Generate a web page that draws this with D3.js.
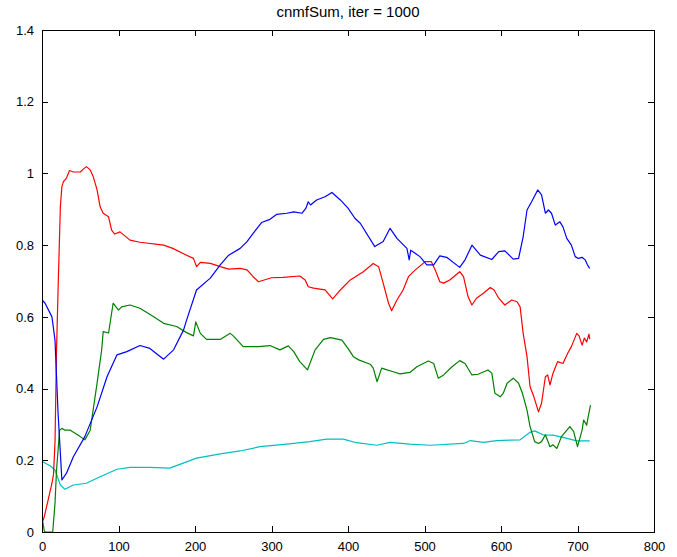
<!DOCTYPE html>
<html>
<head>
<meta charset="utf-8">
<script src="https://cdn.jsdelivr.net/npm/d3@7"></script>
<style>
  body { margin: 0; background: #fff; }
  svg { display: block; }
  .tick text { font-family: "Liberation Sans", Arial, sans-serif; font-size: 13px; fill: #000; }
  .title { font-family: "Liberation Sans", Arial, sans-serif; font-size: 15px; fill: #000; }
</style>
</head>
<body>
<div id="chart"></div>
<script>
const title = 'cnmfSum, iter = 1000';
const xTicks = [0, 100, 200, 300, 400, 500, 600, 700, 800];
const yTicks = [0, 0.2, 0.4, 0.6, 0.8, 1, 1.2, 1.4];

// [x, value]
const blueSeries = [
  [1,0.645],[4,0.638],[13,0.600],[17,0.535],[21,0.332],[26,0.145],[32,0.164],[41,0.210],[56,0.266],
  [72,0.349],[85,0.433],[98,0.494],[111,0.503],[128,0.520],[141,0.512],[159,0.482],[172,0.508],
  [185,0.563],[189,0.591],[202,0.675],[220,0.708],[233,0.745],[244,0.772],[259,0.791],[268,0.810],
  [276,0.833],[287,0.863],[298,0.872],[307,0.886],[320,0.889],[329,0.893],[340,0.889],[345,0.903],
  [348,0.921],[351,0.912],[359,0.926],[370,0.935],[379,0.947],[390,0.926],[400,0.903],[409,0.875],
  [416,0.861],[435,0.796],[446,0.810],[455,0.847],[464,0.819],[477,0.791],[480,0.759],[482,0.786],
  [494,0.768],[503,0.745],[512,0.745],[520,0.770],[529,0.766],[546,0.738],[553,0.759],[562,0.800],
  [573,0.772],[588,0.760],[597,0.782],[605,0.784],[616,0.761],[623,0.763],[629,0.824],[634,0.898],
  [640,0.921],[648,0.954],[653,0.940],[658,0.889],[662,0.898],[666,0.889],[671,0.856],[677,0.865],
  [681,0.851],[686,0.819],[692,0.800],[697,0.768],[701,0.763],[706,0.766],[710,0.759],[713,0.745],
  [716,0.735]
];

const redSeries = [
  [1,0.030],[3,0.043],[7,0.080],[13,0.136],[15,0.160],[17,0.250],[19,0.508],[21,0.675],[24,0.907],
  [26,0.963],[28,0.977],[32,0.987],[36,1.008],[41,1.004],[50,1.004],[54,1.012],[58,1.019],[63,1.010],
  [67,0.991],[72,0.954],[76,0.907],[80,0.889],[87,0.879],[91,0.842],[95,0.831],[102,0.837],[115,0.814],
  [128,0.808],[159,0.800],[171,0.791],[189,0.772],[198,0.763],[202,0.740],[207,0.752],[220,0.749],
  [233,0.740],[244,0.733],[259,0.735],[268,0.731],[276,0.712],[283,0.698],[300,0.709],[315,0.710],
  [337,0.714],[344,0.703],[348,0.684],[355,0.680],[370,0.675],[380,0.650],[390,0.675],[403,0.703],
  [420,0.726],[433,0.749],[440,0.740],[446,0.694],[453,0.638],[457,0.617],[464,0.647],[472,0.675],
  [479,0.712],[488,0.731],[501,0.754],[509,0.754],[514,0.731],[520,0.698],[525,0.694],[533,0.703],
  [546,0.726],[551,0.712],[557,0.656],[562,0.633],[568,0.652],[577,0.666],[586,0.682],[591,0.675],
  [597,0.652],[605,0.633],[614,0.647],[621,0.642],[625,0.628],[629,0.554],[634,0.489],[638,0.405],
  [643,0.377],[649,0.335],[653,0.359],[658,0.433],[661,0.438],[664,0.410],[668,0.443],[674,0.475],
  [681,0.470],[687,0.498],[692,0.517],[699,0.554],[702,0.547],[706,0.521],[709,0.541],[712,0.530],
  [715,0.552],[716,0.538]
];

const greenSeries = [
  [1,0.028],[3,0.003],[4,0],[14,0],[17,0.080],[19,0.173],[23,0.284],[26,0.289],[30,0.284],[37,0.284],
  [50,0.266],[56,0.257],[63,0.284],[72,0.415],[78,0.508],[80,0.559],[87,0.555],[93,0.638],[100,0.619],
  [104,0.628],[115,0.633],[128,0.624],[146,0.600],[159,0.582],[176,0.573],[189,0.556],[198,0.547],
  [201,0.586],[207,0.554],[215,0.537],[233,0.537],[246,0.554],[250,0.547],[263,0.517],[283,0.517],
  [298,0.520],[311,0.508],[322,0.519],[329,0.503],[337,0.475],[347,0.452],[357,0.508],[368,0.537],
  [377,0.542],[392,0.535],[400,0.512],[407,0.489],[414,0.480],[429,0.468],[433,0.457],[438,0.419],
  [444,0.457],[451,0.452],[459,0.447],[468,0.441],[481,0.445],[490,0.461],[505,0.477],[512,0.470],
  [518,0.429],[525,0.438],[536,0.461],[546,0.478],[553,0.470],[562,0.438],[570,0.440],[583,0.452],
  [588,0.443],[592,0.387],[599,0.377],[603,0.387],[608,0.415],[616,0.429],[623,0.415],[628,0.387],
  [634,0.340],[638,0.294],[644,0.252],[649,0.247],[653,0.252],[658,0.271],[664,0.238],[668,0.243],
  [673,0.233],[679,0.266],[690,0.294],[695,0.280],[700,0.238],[706,0.284],[708,0.312],[712,0.298],
  [714,0.322],[717,0.354]
];

const cyanSeries = [
  [1,0.196],[11,0.184],[17,0.173],[24,0.131],[30,0.119],[41,0.131],[58,0.136],[76,0.154],[98,0.175],
  [115,0.180],[141,0.180],[167,0.178],[202,0.206],[233,0.218],[259,0.226],[285,0.238],[320,0.245],
  [350,0.252],[372,0.259],[394,0.259],[411,0.249],[438,0.242],[455,0.250],[481,0.245],[507,0.242],
  [551,0.247],[560,0.255],[577,0.250],[594,0.255],[625,0.257],[638,0.278],[644,0.282],[655,0.271],
  [668,0.270],[681,0.264],[699,0.254],[716,0.254]
];

const seriesList = [
  { data: cyanSeries, color: '#00bfbf' },
  { data: greenSeries, color: '#008000' },
  { data: redSeries, color: '#ff0000' },
  { data: blueSeries, color: '#0000ff' }
];

const width = 677;
const height = 557;
const plot = { left: 42, right: 654, top: 30, bottom: 532 };
const tickLen = 6;

const svg = d3.select('#chart')
  .append('svg')
  .attr('width', width)
  .attr('height', height);

const x = d3.scaleLinear().domain([0, 800]).range([plot.left, plot.right]);
const y = d3.scaleLinear().domain([0, 1.4]).range([plot.bottom, plot.top]);

// lines
const line = d3.line()
  .x(d => x(d[0]))
  .y(d => y(d[1]));

svg.append('g')
  .selectAll('path')
  .data(seriesList)
  .join('path')
  .attr('d', d => line(d.data))
  .attr('fill', 'none')
  .attr('stroke', d => d.color)
  .attr('stroke-width', 1.2)
  .attr('stroke-linejoin', 'round');

// axes, ticks pointing inward on all four sides
const fmt = d => String(d);

svg.append('g')
  .attr('transform', `translate(0,${plot.bottom})`)
  .call(d3.axisBottom(x).tickValues(xTicks).tickFormat(fmt).tickSizeInner(-tickLen).tickSizeOuter(0).tickPadding(10));

svg.append('g')
  .attr('transform', `translate(${plot.left},0)`)
  .call(d3.axisLeft(y).tickValues(yTicks).tickFormat(fmt).tickSizeInner(-tickLen).tickSizeOuter(0).tickPadding(8));

svg.append('g')
  .attr('transform', `translate(0,${plot.top})`)
  .call(d3.axisTop(x).tickValues(xTicks).tickFormat('').tickSizeInner(-tickLen).tickSizeOuter(0));

svg.append('g')
  .attr('transform', `translate(${plot.right},0)`)
  .call(d3.axisRight(y).tickValues(yTicks).tickFormat('').tickSizeInner(-tickLen).tickSizeOuter(0));

svg.selectAll('.domain, .tick line').attr('stroke', '#000').attr('shape-rendering', 'crispEdges');

svg.append('text')
  .attr('class', 'title')
  .attr('x', (plot.left + plot.right) / 2)
  .attr('y', 17)
  .attr('text-anchor', 'middle')
  .text(title);
</script>
</body>
</html>
